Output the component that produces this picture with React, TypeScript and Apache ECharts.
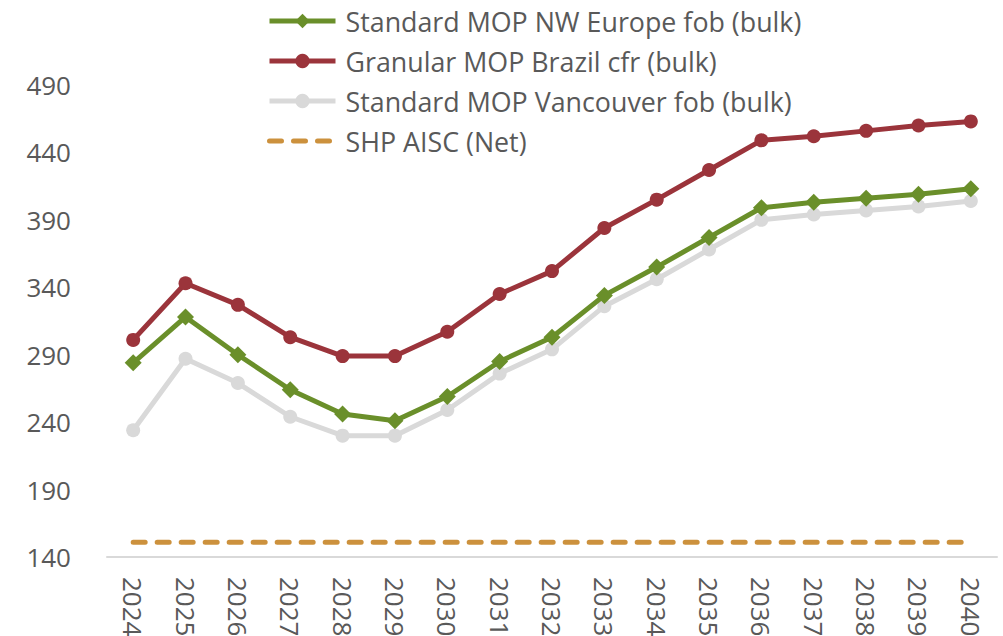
import React, { useEffect, useRef } from "react";
import * as echarts from "echarts";

const years = ["2024","2025","2026","2027","2028","2029","2030","2031","2032","2033","2034","2035","2036","2037","2038","2039","2040"];
const nwEurope = [284, 318, 290, 264, 246, 241, 259, 285, 303, 334, 355, 377, 399, 403, 406, 409, 413];
const brazil = [301, 343, 327, 303, 289, 289, 307, 335, 352, 384, 405, 427, 449, 452, 456, 460, 463];
const vancouver = [234, 287, 269, 244, 230, 230, 249, 276, 294, 326, 346, 368, 390, 394, 397, 400, 404];
const aisc = [151, 151, 151, 151, 151, 151, 151, 151, 151, 151, 151, 151, 151, 151, 151, 151, 151];

const names = [
  "Standard MOP NW Europe fob (bulk)",
  "Granular MOP Brazil cfr (bulk)",
  "Standard MOP Vancouver fob (bulk)",
  "SHP AISC (Net)",
];

const FONT = "Open Sans";
const TXT = "#595959";
const FS = 26;

export default function App() {
  const ref = useRef<HTMLDivElement>(null);
  useEffect(() => {
    document.body.style.margin = "0";
    const chart = echarts.init(ref.current!, undefined, { renderer: "svg" });
    chart.setOption({
      animation: false,
      backgroundColor: "#ffffff",
      textStyle: { fontFamily: FONT },
      grid: { left: 107, right: 6, top: 17.6, bottom: 79, containLabel: false, outerBoundsMode: "none" },
      legend: {
        orient: "vertical",
        left: 262,
        top: 0,
        itemWidth: 66,
        itemHeight: 18,
        itemGap: 8,
        lineStyle: { width: 5 },
        data: [
          names[0],
          names[1],
          names[2],
          { name: names[3], itemStyle: { opacity: 0 } },
        ],
        textStyle: { fontFamily: FONT, fontSize: 26.8, color: TXT, lineHeight: 32, padding: [0, 0, 0, 5] },
      },
      xAxis: {
        type: "category",
        data: years,
        boundaryGap: true,
        axisLine: { show: true, lineStyle: { color: "#d9d9d9", width: 2 } },
        axisTick: { show: false },
        axisLabel: { rotate: -90, margin: 20, fontSize: FS, color: TXT, fontFamily: FONT },
      },
      yAxis: {
        type: "value",
        min: 140,
        max: 540,
        interval: 50,
        axisLine: { show: false },
        axisTick: { show: false },
        splitLine: { show: false },
        axisLabel: {
          margin: 36,
          fontSize: FS,
          color: TXT,
          fontFamily: FONT,
          formatter: (v: number) => (v > 500 ? "" : String(v)),
        },
      },
      series: [
        {
          name: names[3],
          type: "line",
          data: aisc,
          symbol: "none",
          z: 1,
          itemStyle: { color: "#cc913d" },
          lineStyle: { color: "#cc913d", width: 5, type: [12, 12], cap: "round" },
        },
        {
          name: names[2],
          type: "line",
          data: vancouver,
          symbol: "circle",
          symbolSize: 14,
          z: 2,
          itemStyle: { color: "#d9d9d9" },
          lineStyle: { color: "#d9d9d9", width: 5 },
        },
        {
          name: names[1],
          type: "line",
          data: brazil,
          symbol: "circle",
          symbolSize: 14,
          z: 3,
          itemStyle: { color: "#9b343b" },
          lineStyle: { color: "#9b343b", width: 5 },
        },
        {
          name: names[0],
          type: "line",
          data: nwEurope,
          symbol: "diamond",
          symbolSize: 17,
          z: 4,
          itemStyle: { color: "#6a8f2a" },
          lineStyle: { color: "#6a8f2a", width: 5 },
        },
      ],
    });
    return () => chart.dispose();
  }, []);
  return <div ref={ref} style={{ width: 1003, height: 636 }} />;
}
